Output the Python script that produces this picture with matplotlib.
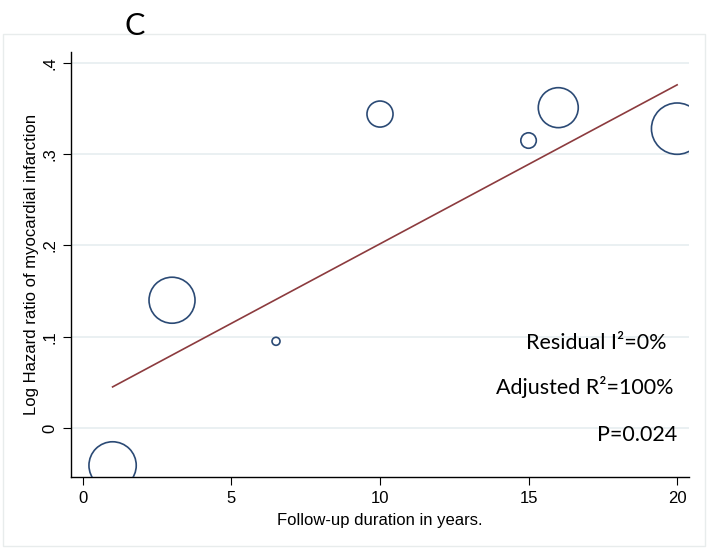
import numpy as np
import matplotlib
matplotlib.use('Agg')
from matplotlib import pyplot as plt
from matplotlib.patches import Rectangle

# study data: follow-up years, log hazard ratio, study weight
years = [1, 3, 6.5, 10, 15, 16, 20]
log_hr = [-0.041, 0.140, 0.095, 0.344, 0.315, 0.351, 0.328]
weights = [560, 530, 16, 170, 60, 400, 660]

# meta-regression fit
intercept = 0.0276
slope = 0.01742
fit_x = [1, 20]

annotations = ['Residual I²=0%', 'Adjusted R²=100%', 'P=0.024']

navy = '#2b4a75'
maroon = '#8c3b3e'
grid_col = '#e6eef0'

W, H = 708, 548
fig = plt.figure(figsize=(W / 100, H / 100), dpi=100)
fig.patch.set_facecolor('white')

# faint outer frame
fig.add_artist(Rectangle((3 / W, 1 - 546 / H), 702 / W, 512 / H, transform=fig.transFigure,
                         fill=False, edgecolor='#e8ecec', lw=1))

ax = fig.add_axes([71 / W, 1 - 477 / H, (689 - 71) / W, (477 - 52) / H])
ax.set_xlim(-0.4, 20.4)
ax.set_ylim(-0.0537, 0.412)

ax.set_yticks([0, 0.1, 0.2, 0.3, 0.4])
ax.set_yticklabels(['0', '.1', '.2', '.3', '.4'], rotation=90, va='center')
ax.set_xticks([0, 5, 10, 15, 20])
for y in [0, 0.1, 0.2, 0.3, 0.4]:
    ax.axhline(y, color=grid_col, lw=1.2, zorder=0)

ax.spines['top'].set_visible(False)
ax.spines['right'].set_visible(False)
for s in ['left', 'bottom']:
    ax.spines[s].set_linewidth(1.0)
ax.tick_params(length=6, width=0.8, labelsize=12, pad=4)
plt.setp(ax.get_xticklabels(), family='Liberation Sans')
plt.setp(ax.get_yticklabels(), family='Liberation Sans')

sizes = np.array(weights) * 2.07
ax.scatter(years, log_hr, s=sizes, facecolors='none', edgecolors=navy, linewidths=1.2, zorder=3)

fx = np.array(fit_x)
ax.plot(fx, intercept + slope * fx, color=maroon, lw=1.2, zorder=2)

ax.set_xlabel('Follow-up duration in years.', family='Liberation Sans', fontsize=12, labelpad=5)
ax.set_ylabel('Log Hazard ratio of myocardial infarction', family='Liberation Sans', fontsize=12, labelpad=2)

ty = [343, 387, 435]
tx = [667, 674, 677]
for txt, x, y in zip(annotations, tx, ty):
    fig.text(x / W, 1 - y / H, txt, ha='right', va='center', fontsize=15.5, family='Lato')

fig.text(135 / W, 1 - 26 / H, 'C', ha='center', va='center', fontsize=22, family='Lato')

plt.savefig('out.png', dpi=100)
